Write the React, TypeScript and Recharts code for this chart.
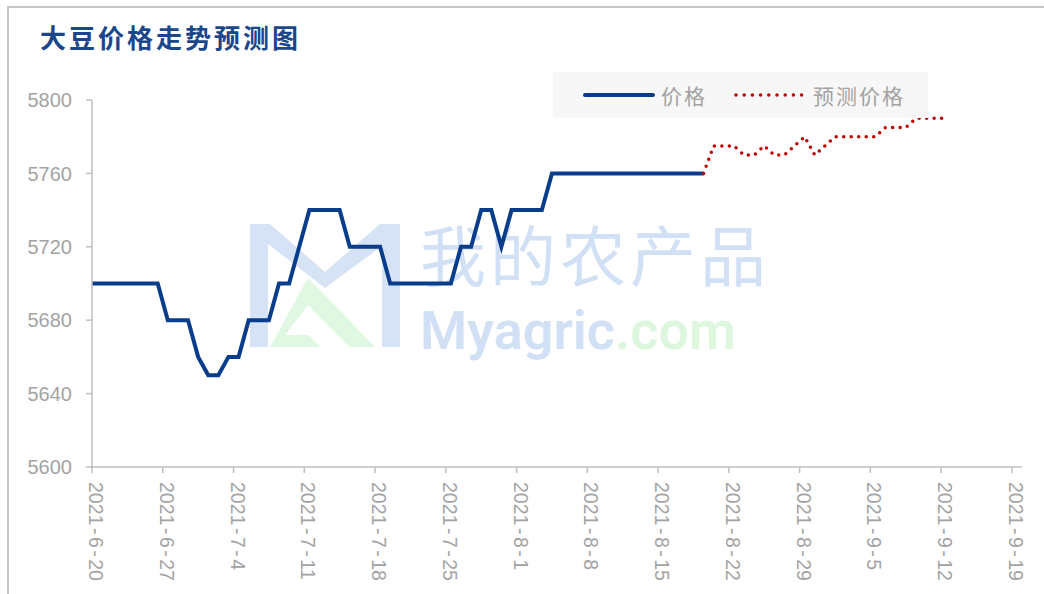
import React from 'react';
import { LineChart, Line, XAxis, YAxis, Legend } from 'recharts';

const START = new Date(2021, 5, 20);

// 实际价格 (折点)
const priceDates = [
  '2021-6-19', '2021-6-26', '2021-6-27', '2021-6-29', '2021-6-30', '2021-7-1', '2021-7-2',
  '2021-7-3', '2021-7-4', '2021-7-5', '2021-7-7', '2021-7-8', '2021-7-9', '2021-7-11',
  '2021-7-14', '2021-7-15', '2021-7-18', '2021-7-19', '2021-7-25', '2021-7-26', '2021-7-27',
  '2021-7-28', '2021-7-29', '2021-7-30', '2021-7-31', '2021-8-3', '2021-8-4', '2021-8-19',
];
const priceValues = [
  5700, 5700, 5680, 5680, 5660, 5650, 5650,
  5660, 5660, 5680, 5680, 5700, 5700, 5740,
  5740, 5720, 5720, 5700, 5700, 5720, 5720,
  5740, 5740, 5720, 5740, 5740, 5760, 5760,
];

// 预测价格
const forecastDates = [
  '2021-8-19', '2021-8-20', '2021-8-22', '2021-8-23', '2021-8-24', '2021-8-25', '2021-8-26',
  '2021-8-27', '2021-8-28', '2021-8-29', '2021-8-30', '2021-8-31', '2021-9-1', '2021-9-5',
  '2021-9-6', '2021-9-8', '2021-9-9', '2021-9-12',
];
const forecastValues = [
  5760, 5775, 5775, 5770, 5770, 5775, 5770,
  5770, 5775, 5780, 5770, 5775, 5780, 5780,
  5785, 5785, 5790, 5790,
];

const tickDates = [
  '2021-6-20', '2021-6-27', '2021-7-4', '2021-7-11', '2021-7-18', '2021-7-25', '2021-8-1',
  '2021-8-8', '2021-8-15', '2021-8-22', '2021-8-29', '2021-9-5', '2021-9-12', '2021-9-19',
];
const yTicks = [5600, 5640, 5680, 5720, 5760, 5800];

const dayOf = (s: string) => {
  const [y, m, d] = s.split('-').map(Number);
  return Math.round((new Date(y, m - 1, d).getTime() - START.getTime()) / 86400000);
};

// points sit in the middle of each day's slot
const priceData = priceDates.map((d, i) => ({ x: dayOf(d) + 0.5, price: priceValues[i] }));
const forecastData = forecastDates.map((d, i) => ({ x: dayOf(d) + 0.5, forecast: forecastValues[i] }));
const xTicks = tickDates.map(dayOf);
const labelOf: Record<number, string> = {};
tickDates.forEach(d => { labelOf[dayOf(d)] = d; });

const BLUE = '#083d8b';
const RED = '#c00000';
const GRAY = '#a3a3a3';
const AXIS = '#bfbfbf';

const XTick = (props: any) => {
  const { x, y, payload } = props;
  const parts = (labelOf[payload.value] || '').split('-');
  return (
    <text
      transform={`translate(${x - 3},${y + 7}) rotate(90)`}
      textAnchor="start"
      fill={GRAY}
      fontSize={19.5}
      fontFamily="'Liberation Sans', Arial, sans-serif"
    >
      {parts.map((p, i) => (
        <React.Fragment key={i}>
          {i > 0 && <tspan dx={2.5}>-</tspan>}
          <tspan dx={i > 0 ? 2.5 : 0}>{p}</tspan>
        </React.Fragment>
      ))}
    </text>
  );
};

const LegendBox = () => (
  <div style={{ width: 375, height: 46, background: '#f7f7f7', display: 'flex', alignItems: 'center', fontFamily: "'Noto Sans CJK SC', sans-serif", fontSize: 21, color: GRAY }}>
    <svg width={72} height={10} style={{ marginLeft: 30 }}>
      <line x1={2} y1={5} x2={70} y2={5} stroke={BLUE} strokeWidth={4} strokeLinecap="round" />
    </svg>
    <span style={{ marginLeft: 6, letterSpacing: 2 }}>价格</span>
    <svg width={72} height={10} style={{ marginLeft: 26 }}>
      <line x1={3} y1={5} x2={70} y2={5} stroke={RED} strokeWidth={3.5} strokeDasharray="0 8.2" strokeLinecap="round" />
    </svg>
    <span style={{ marginLeft: 8, letterSpacing: 2 }}>预测价格</span>
  </div>
);

const Watermark = () => (
  <svg width={1044} height={594} style={{ position: 'absolute', left: 0, top: 0 }}>
    <g opacity={0.9}>
      <polygon points="250,224 270,224 325,272 380,224 400,224 400,347 382,347 382,246 325,288 268,244 268,347 250,347" fill="#d2e0f5" />
      <polygon points="308,278 375,347 350,347 308,305 285,335 300,335 308,335 320,347 270,347" fill="#ddf7df" />
    </g>
    <text x={420} y={281} fontSize={66} fontFamily="'Noto Sans CJK SC', sans-serif" fill="#d2e0f5" letterSpacing={4}>我的农产品</text>
    <text x={420} y={349} fontSize={54} fontWeight={600} fontFamily="Roboto, sans-serif" fill="#d2e0f5">
      Myagric<tspan fill="#ddf7df">.com</tspan>
    </text>
  </svg>
);

export default function App() {
  return (
    <div style={{ position: 'absolute', left: 0, top: 0, width: 1044, height: 594, background: '#fff', overflow: 'hidden', fontFamily: "'Liberation Sans', Arial, sans-serif" }}>
      <div style={{ position: 'absolute', left: 7, top: 6, width: 1100, height: 700, borderLeft: `2px solid #c8c8c8`, borderTop: `2px solid #c8c8c8` }} />
      <Watermark />
      <div style={{ position: 'absolute', left: 40, top: 18, fontFamily: "'Noto Sans CJK SC', sans-serif", fontWeight: 700, fontSize: 26, color: '#1b468a', letterSpacing: 3 }}>
        大豆价格走势预测图
      </div>
      <div style={{ position: 'absolute', left: 0, top: 0 }}>
        <LineChart width={1044} height={594} margin={{ top: 54, right: 22, bottom: 0, left: 0 }}>
          <XAxis
            type="number"
            dataKey="x"
            domain={[0, 92]}
            ticks={xTicks}
            allowDataOverflow
            interval={0}
            height={127}
            tick={<XTick />}
            tickSize={6}
            axisLine={{ stroke: AXIS, strokeWidth: 1.5 }}
            tickLine={{ stroke: AXIS, strokeWidth: 1.5 }}
          />
          <YAxis
            type="number"
            domain={[5600, 5800]}
            ticks={yTicks}
            interval={0}
            width={92}
            tickSize={6}
            tickMargin={14}
            tick={{ fill: GRAY, fontSize: 20 }}
            axisLine={{ stroke: AXIS, strokeWidth: 1.5 }}
            tickLine={{ stroke: AXIS, strokeWidth: 1.5 }}
          />
          <Legend
            verticalAlign="top"
            align="left"
            content={<LegendBox />}
            wrapperStyle={{ left: 553, top: 72, width: 375, height: 46 }}
          />
          <Line
            data={priceData}
            dataKey="price"
            name="价格"
            type="linear"
            stroke={BLUE}
            strokeWidth={4}
            dot={false}
            activeDot={false}
            isAnimationActive={false}
          />
          <Line
            data={forecastData}
            dataKey="forecast"
            name="预测价格"
            type="linear"
            stroke={RED}
            strokeWidth={3.5}
            strokeDasharray="0 7.5"
            strokeLinecap="round"
            dot={false}
            activeDot={false}
            isAnimationActive={false}
          />
        </LineChart>
      </div>
    </div>
  );
}
